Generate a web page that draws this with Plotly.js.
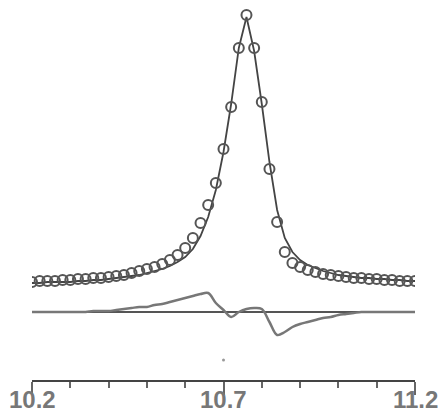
<!DOCTYPE html>
<html>
<head>
<meta charset="utf-8">
<script src="https://cdn.plot.ly/plotly-3.0.1.min.js"></script>
<style>html,body{margin:0;padding:0;background:#fff;}#chart{width:438px;height:417px;}</style>
</head>
<body>
<div id="chart"></div>
<script>
// Energy / position grid (x values of the measured points)
const xData = [10.20,10.22,10.24,10.26,10.28,10.30,10.32,10.34,10.36,10.38,
               10.40,10.42,10.44,10.46,10.48,10.50,10.52,10.54,10.56,10.58,
               10.60,10.62,10.64,10.66,10.68,10.70,10.72,10.74,10.76,10.78,
               10.80,10.82,10.84,10.86,10.88,10.90,10.92,10.94,10.96,10.98,
               11.00,11.02,11.04,11.06,11.08,11.10,11.12,11.14,11.16,11.18,11.20];
// Measured intensity (arbitrary units)
const measured = [0,1,1,1,2,2,3,3,4,4,
                  5,6,7,9,11,13,15,18,22,27,
                  34,44,59,77,99,133,175,234,267,234,
                  180,113,60,30,19,15,12,10,8,7,
                  6,5,4,4,3,3,2,2,1,1,1];
// Fitted curve (arbitrary units)
const fitted = [-1,-1,0,0,0,0,1,1,2,2,
                3,4,5,6,7,9,11,13,16,20,
                25,33,46,65,92,130,178,234,265,231,
                178,120,72,44,30,22,17,14,11,9,
                7,6,5,4,4,3,3,2,2,1,1];
// Difference curve (data - fit)
const residual = [0,0,0,0,0,0,0,0,1,1,
                  1,2,3,4,5,5,7,8,10,12,
                  14,16,18,19,9,2,-5,0,3,4,
                  3,-10,-23,-20,-15,-12,-10,-8,-6,-5,
                  -3,-2,-1,0,0,0,0,0,0,0,0];
const zeroLineX = [10.2, 11.2];
const zeroLineY = [0, 0];
const strayX = [10.7];
const strayY = [-78];
const tickVals = [10.2, 10.7, 11.2];
const tickText = ['10.2', '10.7', '11.2'];

const residualOffset = -30;
const shift = arr => arr.map(v => v + residualOffset);

const traces = [
  {x: zeroLineX, y: shift(zeroLineY), mode: 'lines', line: {color: '#555', width: 2}, hoverinfo: 'skip'},
  {x: xData, y: shift(residual), mode: 'lines', line: {color: '#777', width: 2.5, shape: 'spline'}},
  {x: xData, y: fitted, mode: 'lines', line: {color: '#444', width: 1.8}},
  {x: xData, y: measured, mode: 'markers',
   marker: {symbol: 'circle-open', size: 10, color: '#555', line: {color: '#555', width: 2}}},
  {x: strayX, y: strayY, mode: 'markers', marker: {size: 3, color: '#999'}}
];

const annotations = tickVals.map((v, i) => ({
  x: v, xref: 'x', y: 0, yref: 'paper', yanchor: 'middle', xanchor: 'center',
  yshift: -19, showarrow: false, text: '<b>' + tickText[i] + '</b>',
  font: {family: 'Liberation Sans, Arial, sans-serif', size: 24, color: '#777'}
}));

const layout = {
  width: 438, height: 417,
  margin: {l: 32, r: 23, t: 5, b: 37},
  paper_bgcolor: '#fff', plot_bgcolor: '#fff',
  showlegend: false,
  annotations: annotations,
  xaxis: {
    range: [10.2, 11.2], showgrid: false, zeroline: false,
    showline: true, linecolor: '#444', linewidth: 2,
    ticks: 'outside', ticklen: 13, tickwidth: 2, tickcolor: '#666',
    tickvals: tickVals, showticklabels: false,
    minor: {dtick: 0.1, tick0: 10.2, ticks: 'outside', ticklen: 6, tickwidth: 2, tickcolor: '#666', showgrid: false}
  },
  yaxis: {range: [-98, 277], visible: false, showgrid: false, zeroline: false}
};

Plotly.newPlot('chart', traces, layout, {staticPlot: true, displayModeBar: false});
</script>
</body>
</html>
